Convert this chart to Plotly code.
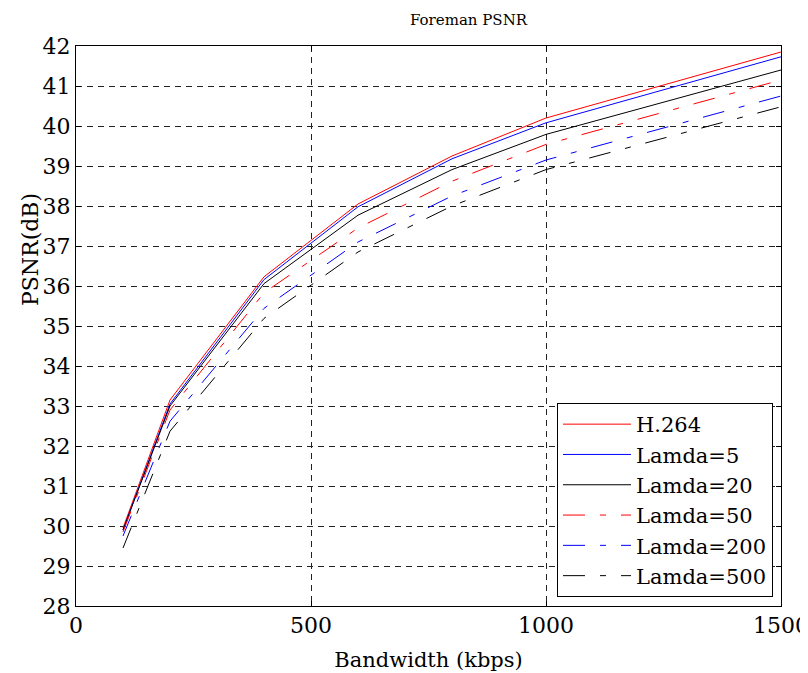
import plotly.graph_objects as go

bandwidth = [100, 200, 400, 600, 800, 1000, 1500]

h264 = [29.95, 33.15, 36.23, 38.05, 39.25, 40.20, 41.85]
lamda5 = [29.90, 33.05, 36.16, 37.98, 39.18, 40.08, 41.73]
lamda20 = [29.90, 33.00, 36.06, 37.77, 38.91, 39.79, 41.40]
lamda50 = [29.85, 32.90, 35.83, 37.45, 38.62, 39.54, 41.15]
lamda200 = [29.75, 32.62, 35.44, 37.10, 38.25, 39.15, 40.75]
lamda500 = [29.45, 32.37, 35.19, 36.85, 38.00, 38.91, 40.48]

series = [
    ("H.264", h264, "#ff0000", "solid"),
    ("Lamda=5", lamda5, "#0000ff", "solid"),
    ("Lamda=20", lamda20, "#000000", "solid"),
    ("Lamda=50", lamda50, "#ff0000", "22px,15px,6px,15px"),
    ("Lamda=200", lamda200, "#0000ff", "22px,15px,6px,15px"),
    ("Lamda=500", lamda500, "#000000", "22px,15px,6px,15px"),
]

FONT = "DejaVu Serif, Liberation Serif, serif"

# page body has an 8px default margin; figure is sized so it fills the 808x673 window
W, H = 800, 665
OFF = 8
L, T = 76 - OFF, 46 - OFF
PW, PH = 705, 560

fig = go.Figure()
for name, vals, color, dash in series:
    fig.add_trace(go.Scatter(
        x=bandwidth, y=vals, mode="lines", name=name,
        line=dict(color=color, width=1, dash=dash),
    ))

axis_common = dict(
    showline=True, linecolor="black", linewidth=1, mirror="ticks",
    ticks="inside", ticklen=5, tickcolor="black",
    showgrid=True, gridcolor="#222222", gridwidth=1, griddash="6px,5px",
    zeroline=False, automargin=False, ticklabeloverflow="allow",
    tickfont=dict(family=FONT, size=22, color="black"),
)

fig.update_xaxes(
    range=[0, 1500], tickvals=[0, 500, 1000, 1500],
    title=dict(text="Bandwidth (kbps)", font=dict(family=FONT, size=21, color="black"), standoff=14),
    **axis_common,
)
fig.update_yaxes(
    range=[28, 42], dtick=1,
    **axis_common,
)


def px(xp):
    return (xp - 76) / PW


def py(yp):
    return (606 - yp) / PH


fig.update_layout(
    width=W, height=H,
    margin=dict(l=L, r=W - L - PW, t=T, b=H - T - PH, autoexpand=False),
    paper_bgcolor="white", plot_bgcolor="white",
    annotations=[
        dict(text="Foreman PSNR", xref="paper", yref="paper",
             x=px(469), y=py(20), xanchor="center", yanchor="middle",
             showarrow=False, font=dict(family=FONT, size=15, color="black")),
        dict(text="PSNR(dB)", xref="paper", yref="paper",
             x=px(30), y=py(250), xanchor="center", yanchor="middle",
             textangle=-90, showarrow=False,
             font=dict(family=FONT, size=22, color="black")),
    ],
    legend=dict(
        x=px(773), xanchor="right", y=py(597), yanchor="bottom",
        bgcolor="white", bordercolor="black", borderwidth=1,
        font=dict(family=FONT, size=21, color="black"),
        itemwidth=68,
    ),
    showlegend=True,
)

fig.write_html("out.html")
